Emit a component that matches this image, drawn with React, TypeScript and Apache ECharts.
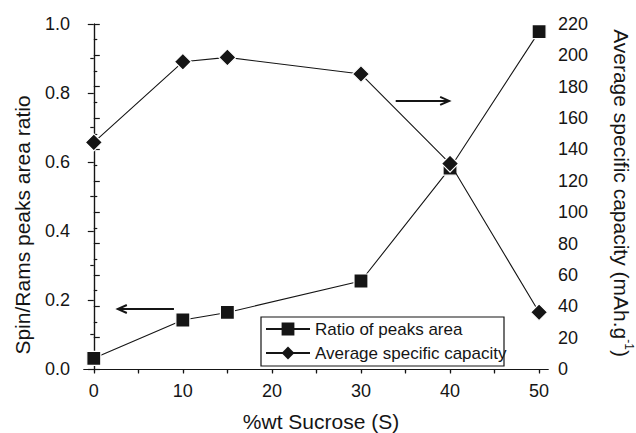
import React, { useEffect, useRef } from "react";
import * as echarts from "echarts";

const sucrose = [0, 10, 15, 30, 40, 50];
const ratioValues = [0.031, 0.142, 0.164, 0.255, 0.582, 0.978];
const capacityValues = [144.5, 195.9, 198.7, 188.1, 131, 36.2];
const xMajorTicks = [0, 10, 20, 30, 40, 50];
const xAllTicks = [0, 5, 10, 15, 20, 25, 30, 35, 40, 45, 50];
// arrows: [xStart, yStart, xEnd, yEnd] in left-axis units
const arrowData = [
  [9.0, 0.174, 2.7, 0.174],
  [33.9, 0.777, 39.9, 0.777],
];
const seriesNames = ["Ratio of peaks area", "Average specific capacity"];

const FONT = "Liberation Sans, Arial, Helvetica, sans-serif";
const INK = "#151515";

export default function App() {
  const ref = useRef<HTMLDivElement>(null);
  useEffect(() => {
    document.body.style.margin = "0";
    const chart = echarts.init(ref.current!, null, { renderer: "svg" });
    const axisLine = { show: true, lineStyle: { color: INK, width: 1.2 } };
    const xCommon = { type: "value", min: -1.1, max: 51, splitLine: { show: false } };
    chart.setOption({
      animation: false,
      backgroundColor: "#fff",
      textStyle: { fontFamily: FONT, color: INK },
      grid: { left: 84, right: 88, top: 24, bottom: 64, containLabel: false },
      xAxis: [
        {
          ...xCommon,
          position: "bottom",
          axisLine,
          axisTick: { show: true, customValues: xAllTicks, length: 4.5, lineStyle: { color: INK, width: 1.2 } },
          axisLabel: { customValues: xMajorTicks, fontSize: 18, color: INK, margin: 13, fontFamily: FONT },
        },
        {
          ...xCommon,
          position: "top",
          axisLine,
          axisTick: { show: true, inside: true, customValues: xAllTicks, length: 3.5, lineStyle: { color: INK, width: 1.2 } },
          axisLabel: { show: false },
        },
      ],
      yAxis: [
        {
          type: "value",
          position: "left",
          min: 0,
          max: 1,
          interval: 0.2,
          axisLine,
          splitLine: { show: false },
          axisTick: { show: true, length: 6, lineStyle: { color: INK, width: 1.2 } },
          minorTick: { show: true, splitNumber: 2, length: 3.5, lineStyle: { color: INK, width: 1.2 } },
          axisLabel: { fontSize: 18, color: INK, margin: 14, fontFamily: FONT, formatter: (v: number) => v.toFixed(1) },
        },
        {
          type: "value",
          position: "right",
          min: 0,
          max: 220,
          interval: 20,
          axisLine,
          splitLine: { show: false },
          axisTick: { show: true, length: 6, lineStyle: { color: INK, width: 1.2 } },
          minorTick: { show: true, splitNumber: 2, length: 3.5, lineStyle: { color: INK, width: 1.2 } },
          axisLabel: { fontSize: 18, color: INK, margin: 10, fontFamily: FONT },
        },
      ],
      legend: {
        orient: "vertical",
        left: 261,
        top: 317,
        data: seriesNames,
        itemWidth: 44,
        itemHeight: 16,
        itemGap: 6,
        padding: [3, 0, 2, 4],
        borderWidth: 0,
        backgroundColor: "transparent",
        itemStyle: { borderWidth: 0 },
        textStyle: { fontSize: 17, color: INK, fontFamily: FONT, lineHeight: 18 },
        selectedMode: false,
        z: 10,
      },
      series: [
        {
          name: seriesNames[0],
          type: "line",
          xAxisIndex: 0,
          yAxisIndex: 0,
          data: sucrose.map((x, i) => [x, ratioValues[i]]),
          symbol: "rect",
          symbolSize: 14,
          color: INK,
          lineStyle: { color: INK, width: 1.1 },
          itemStyle: { color: INK, borderColor: "#fff", borderWidth: 1.2 },
          z: 3,
        },
        {
          name: seriesNames[1],
          type: "line",
          xAxisIndex: 0,
          yAxisIndex: 1,
          data: sucrose.map((x, i) => [x, capacityValues[i]]),
          symbol: "diamond",
          symbolSize: 17,
          color: INK,
          lineStyle: { color: INK, width: 1.1 },
          itemStyle: { color: INK, borderColor: "#fff", borderWidth: 1.2 },
          z: 4,
        },
        {
          type: "custom",
          xAxisIndex: 0,
          yAxisIndex: 0,
          silent: true,
          clip: false,
          data: arrowData,
          renderItem: (params: any, api: any) => {
            const p1 = api.coord([api.value(0), api.value(1)]);
            const p2 = api.coord([api.value(2), api.value(3)]);
            const dir = Math.sign(p2[0] - p1[0]);
            return {
              type: "group",
              children: [
                {
                  type: "line",
                  shape: { x1: p1[0], y1: p1[1], x2: p2[0], y2: p2[1] },
                  style: { stroke: INK, lineWidth: 2 },
                },
                {
                  type: "polyline",
                  shape: {
                    points: [
                      [p2[0] - dir * 9, p2[1] - 4],
                      [p2[0], p2[1]],
                      [p2[0] - dir * 9, p2[1] + 4],
                    ],
                  },
                  style: { stroke: INK, lineWidth: 2, fill: "none" },
                },
              ],
            };
          },
        },
      ],
      graphic: [
        {
          type: "rect",
          shape: { x: 261, y: 317, width: 243, height: 49 },
          style: { fill: "#fff", stroke: INK, lineWidth: 1.2 },
          z: 5,
        },
        {
          type: "text",
          x: 22,
          y: 225,
          rotation: Math.PI / 2,
          style: {
            text: "Spin/Rams peaks area ratio",
            fontSize: 21,
            fontFamily: FONT,
            fill: INK,
            align: "center",
            verticalAlign: "middle",
          },
        },
        {
          type: "text",
          x: 623,
          y: 193,
          rotation: -Math.PI / 2,
          style: {
            text: "{a|Average specific capacity (mAh.g}{s|-1}{a|)}",
            align: "center",
            verticalAlign: "middle",
            fill: INK,
            rich: {
              a: { fontSize: 21, fontFamily: FONT, fill: INK, lineHeight: 24, verticalAlign: "bottom" },
              s: { fontSize: 12, fontFamily: FONT, fill: INK, lineHeight: 12, verticalAlign: "top" },
            },
          },
        },
        {
          type: "text",
          x: 321,
          y: 421,
          style: {
            text: "%wt Sucrose (S)",
            fontSize: 21,
            fontFamily: FONT,
            fill: INK,
            align: "center",
            verticalAlign: "middle",
          },
        },
      ],
    });
    return () => chart.dispose();
  }, []);
  return <div ref={ref} style={{ width: 636, height: 433 }} />;
}
